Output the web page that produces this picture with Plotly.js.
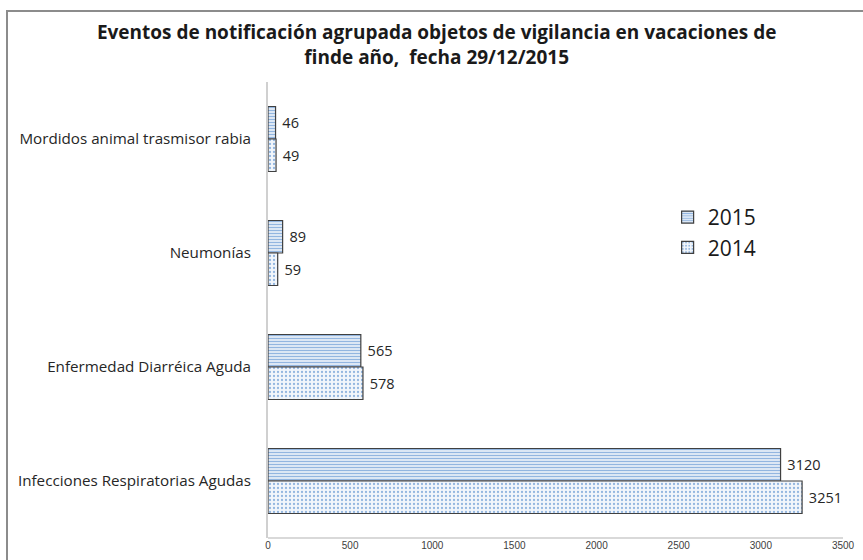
<!DOCTYPE html>
<html>
<head>
<meta charset="utf-8">
<script src="https://cdn.plot.ly/plotly-3.0.1.min.js"></script>
<style>
  body { margin: 0; background: #fff; overflow: hidden; }
  #frame { position: absolute; left: 6px; top: 10px; width: 900px; height: 600px;
           border-left: 2px solid #8c8c8c; border-top: 2px solid #8c8c8c; }
  #chart { position: absolute; left: 0; top: 0; width: 863px; height: 560px; }
</style>
</head>
<body>
<div id="frame"></div>
<div id="chart"></div>
<script>
// categories, top to bottom
const categories = [
    'Mordidos animal trasmisor rabia',
    'Neumonías',
    'Enfermedad Diarréica Aguda',
    'Infecciones Respiratorias Agudas'
];
const values2015 = [46, 89, 565, 3120];
const values2014 = [49, 59, 578, 3251];
const xTicks = [0, 500, 1000, 1500, 2000, 2500, 3000, 3500];

const edge = { color: '#404040', width: 1.2 };

const trace2015 = {
    type: 'bar',
    orientation: 'h',
    name: '2015',
    y: categories,
    x: values2015,
    text: values2015,
    texttemplate: ' %{x}',
    textposition: 'outside',
    cliponaxis: false,
    textfont: { family: 'Open Sans, sans-serif', size: 14.5, color: '#262626' },
    marker: {
        color: '#dce7f4',
        line: edge,
        pattern: { shape: '-', fgcolor: '#93b6e0', bgcolor: '#dce7f4', size: 3, solidity: 0.35 }
    },
    hoverinfo: 'x+y'
};

const trace2014 = {
    type: 'bar',
    orientation: 'h',
    name: '2014',
    y: categories,
    x: values2014,
    text: values2014,
    texttemplate: ' %{x}',
    textposition: 'outside',
    cliponaxis: false,
    textfont: { family: 'Open Sans, sans-serif', size: 14.5, color: '#262626' },
    marker: {
        color: '#f2f6fb',
        line: edge,
        pattern: { shape: '.', fgcolor: '#93b6e0', bgcolor: '#f2f6fb', size: 4, solidity: 0.25 }
    },
    hoverinfo: 'x+y'
};

const layout = {
    width: 863,
    height: 560,
    paper_bgcolor: 'rgba(0,0,0,0)',
    plot_bgcolor: 'rgba(0,0,0,0)',
    margin: { l: 268, r: 20, t: 82, b: 22 },
    title: {
        text: '<b>Eventos de notificación agrupada objetos de vigilancia en vacaciones de<br>finde año,  fecha 29/12/2015</b>',
        font: { family: 'Open Sans, sans-serif', size: 19, color: '#1a1a1a' },
        x: 0.506,
        xanchor: 'center',
        y: 0.930,
        yanchor: 'middle'
    },
    barmode: 'group',
    bargap: 0.43,
    bargroupgap: 0,
    showlegend: true,
    legend: {
        x: 0.695,
        y: 0.748,
        xanchor: 'left',
        yanchor: 'top',
        font: { family: 'Open Sans, sans-serif', size: 21, color: '#1a1a1a' },
        bgcolor: 'rgba(0,0,0,0)',
        itemwidth: 30
    },
    xaxis: {
        range: [0, 3500],
        tickvals: xTicks,
        ticktext: xTicks.map(String),
        showgrid: false,
        zeroline: false,
        showline: false,
        ticks: '',
        tickfont: { family: 'Liberation Sans, sans-serif', size: 10, color: '#404040' },
        fixedrange: true
    },
    yaxis: {
        autorange: 'reversed',
        showgrid: false,
        zeroline: false,
        showline: true,
        linecolor: '#d0d0d0',
        linewidth: 2,
        ticks: '',
        ticklabelstandoff: 12,
        tickfont: { family: 'Open Sans, sans-serif', size: 15.2, color: '#262626' },
        fixedrange: true
    },
    shapes: [
        { type: 'line', xref: 'x', yref: 'paper', x0: 0, x1: 3500, y0: 0, y1: 0,
          line: { color: '#d9d9d9', width: 2 } }
    ]
};

Plotly.newPlot('chart', [trace2015, trace2014], layout, { displayModeBar: false, staticPlot: true });
</script>
</body>
</html>
